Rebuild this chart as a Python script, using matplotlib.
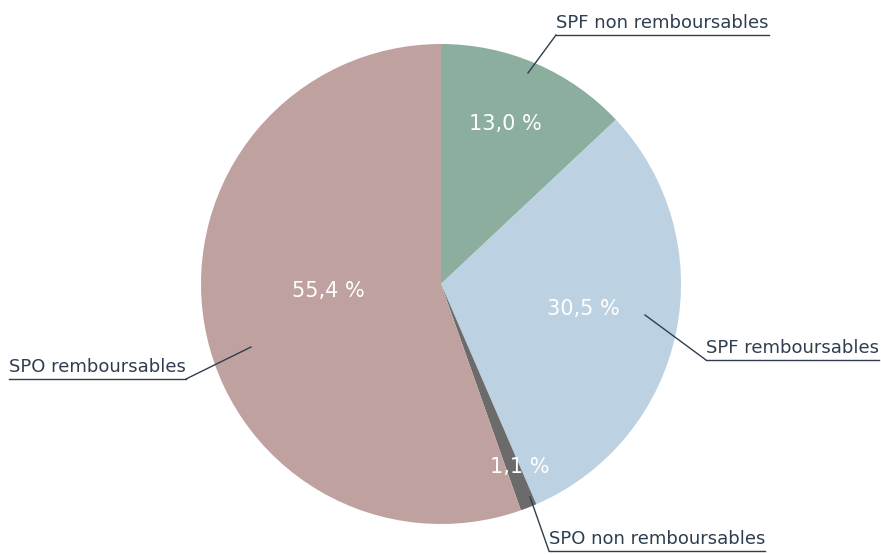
import matplotlib
matplotlib.use("Agg")
import matplotlib.pyplot as plt

# données
categories = ["SPF non remboursables", "SPF remboursables",
              "SPO non remboursables", "SPO remboursables"]
values = [13.0, 30.5, 1.1, 55.4]
pct_labels = ["13,0 %", "30,5 %", "1,1 %", "55,4 %"]
colors = ["#8cae9f", "#bcd1e1", "#6b6b6b", "#bfa29f"]

W, H = 881, 554
CX, CY, R = 441, 284, 240
label_color = "#2e3e50"

def px(x, y):
    # pixel (haut-gauche) -> coordonnées données
    return (x - CX) / R, (CY - y) / R

fig = plt.figure(figsize=(W / 100, H / 100), dpi=100)
ax = fig.add_axes([0, 0, 1, 1])

ax.pie(values, colors=colors, startangle=90, counterclock=False,
       radius=1, center=(0, 0), frame=True,
       wedgeprops=dict(linewidth=0))
ax.set_xlim(-CX / R, (W - CX) / R)
ax.set_ylim(-(H - CY) / R, CY / R)
ax.set_aspect("equal")
ax.axis("off")

# pourcentages dans les parts
pct_pos = [(505, 124), (583, 309), (520, 467), (328, 291)]
for lab, (x, y) in zip(pct_labels, pct_pos):
    ax.text(*px(x, y), lab, color="white", fontsize=15, ha="center",
            va="center")

# étiquettes avec trait de rappel souligné
leaders = [((528, 73), (556, 35), "right"),
           ((645, 315), (706, 360), "right"),
           ((530, 497), (549, 551), "right"),
           ((251, 347), (186, 379), "left")]

texts = []
for cat, (p0, p1, side) in zip(categories, leaders):
    ax.plot(*zip(px(*p0), px(*p1)), color=label_color, lw=1)
    ha = "left" if side == "right" else "right"
    t = ax.text(*px(p1[0], p1[1] - 3), cat, color=label_color, fontsize=13,
                ha=ha, va="bottom")
    texts.append((t, p1))

fig.canvas.draw()
renderer = fig.canvas.get_renderer()
for t, p1 in texts:
    bb = t.get_window_extent(renderer)
    ax.plot([(bb.x0 - CX) / R, (bb.x1 - CX) / R], [px(0, p1[1])[1]] * 2,
            color=label_color, lw=1)

fig.savefig("out.png", dpi=100)
